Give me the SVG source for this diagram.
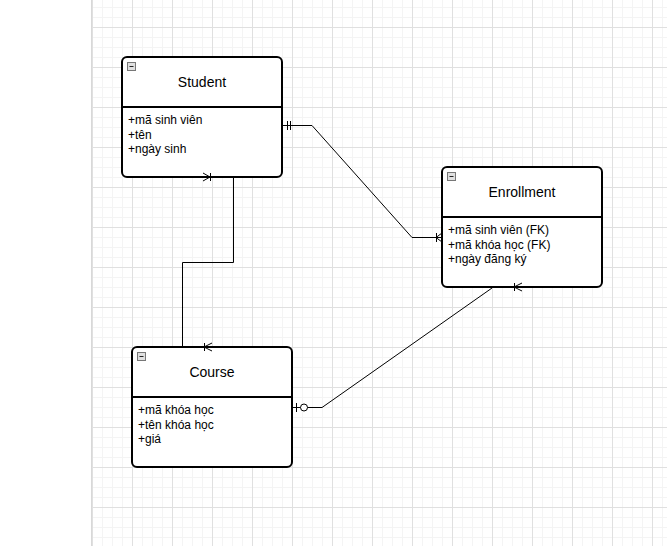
<svg xmlns="http://www.w3.org/2000/svg" width="667" height="546" viewBox="0 0 667 546">
  <defs>
    <pattern id="grid" x="12" y="27" width="40" height="40" patternUnits="userSpaceOnUse">
      <path d="M10.5 0V40M20.5 0V40M30.5 0V40M0 10.5H40M0 20.5H40M0 30.5H40" stroke="#f4f4f4" stroke-width="1" fill="none"/>
      <path d="M0.5 0V40M0 0.5H40" stroke="#e0e0e0" stroke-width="1" fill="none"/>
    </pattern>
  </defs>
  <style>
    .box{fill:#fff;stroke:#000;stroke-width:2}
    .sep{stroke:#000;stroke-width:2}
    .title{font-family:"Liberation Sans",Arial,sans-serif;font-size:14px;fill:#000;text-anchor:middle}
    .attr{font-family:"Liberation Sans",Arial,sans-serif;font-size:12px;fill:#000}
    .icon{fill:#e0e0e0;stroke:#777;stroke-width:1}
    .dash{stroke:#222;stroke-width:1}
    .edge{fill:none;stroke:#000;stroke-width:1}
    .mk{fill:none;stroke:#000;stroke-width:1}
  </style>
  <rect width="667" height="546" fill="#fff"/>
  <rect x="91" y="0" width="576" height="546" fill="url(#grid)"/>
  <line x1="91.5" y1="0" x2="91.5" y2="546" stroke="#d8d8d8"/>

  <g id="student">
    <rect class="box" x="122" y="57" width="160" height="120" rx="5"/>
    <line class="sep" x1="122" y1="107" x2="282" y2="107"/>
    <rect class="icon" x="127.5" y="62.5" width="8" height="8"/>
    <line class="dash" x1="129.5" y1="66.5" x2="133.5" y2="66.5"/>
    <text class="title" x="202" y="87">Student</text>
    <text class="attr" x="128" y="124">+mã sinh viên</text>
    <text class="attr" x="128" y="138.5">+tên</text>
    <text class="attr" x="128" y="153">+ngày sinh</text>
  </g>

  <g id="enrollment">
    <rect class="box" x="442" y="167" width="160" height="120" rx="5"/>
    <line class="sep" x1="442" y1="217" x2="602" y2="217"/>
    <rect class="icon" x="447.5" y="172.5" width="8" height="8"/>
    <line class="dash" x1="449.5" y1="176.5" x2="453.5" y2="176.5"/>
    <text class="title" x="522" y="197">Enrollment</text>
    <text class="attr" x="448" y="234">+mã sinh viên (FK)</text>
    <text class="attr" x="448" y="248.5">+mã khóa học (FK)</text>
    <text class="attr" x="448" y="263">+ngày đăng ký</text>
  </g>

  <g id="course">
    <rect class="box" x="132" y="347" width="160" height="120" rx="5"/>
    <line class="sep" x1="132" y1="397" x2="292" y2="397"/>
    <rect class="icon" x="137.5" y="352.5" width="8" height="8"/>
    <line class="dash" x1="139.5" y1="356.5" x2="143.5" y2="356.5"/>
    <text class="title" x="212" y="377">Course</text>
    <text class="attr" x="138" y="414">+mã khóa học</text>
    <text class="attr" x="138" y="428.5">+tên khóa học</text>
    <text class="attr" x="138" y="443">+giá</text>
  </g>

  <g id="connectors">
    <path class="edge" d="M283 125.5H312L412 237.5H441"/>
    <path class="mk" d="M287.5 121V130M290.5 121V130"/>
    <path class="mk" d="M436.5 233V242M436 237.5L442 233M436 237.5L442 242"/>

    <path class="edge" d="M233.5 178V262.5H182.5V346"/>
    <path class="mk" d="M203 173L210 177L203 181M210.5 173V181"/>
    <path class="mk" d="M212 343L204 347L212 351M204.5 343V351"/>

    <path class="edge" d="M492 288L322 407.5H293"/>
    <path class="mk" d="M514.5 283V291M522 283L514 287L522 291"/>
    <path class="mk" d="M296.5 403V412"/>
    <circle cx="304" cy="407.5" r="3.5" fill="#fff" stroke="#000" stroke-width="1"/>
  </g>
</svg>
